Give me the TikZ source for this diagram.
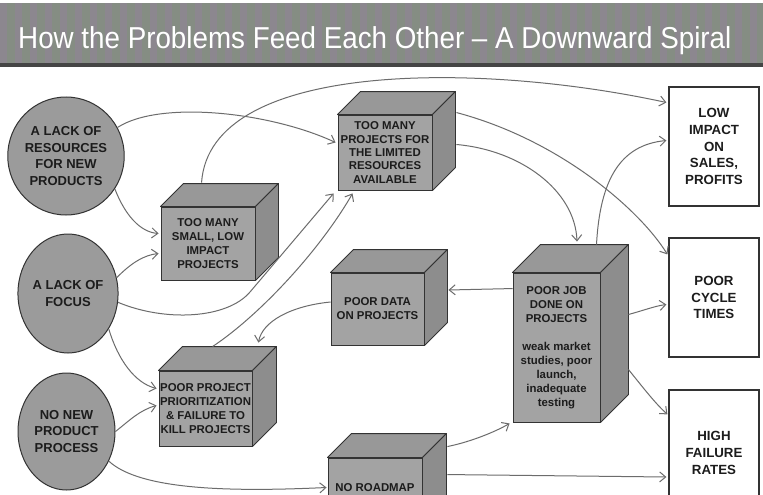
\documentclass[tikz,border=0pt]{standalone}
\usepackage{fontspec}
\setmainfont{Liberation Sans}
\usetikzlibrary{arrows.meta,calc,shapes.geometric}
\definecolor{barbase}{HTML}{858D83}
\definecolor{barstripe}{HTML}{8C878F}
\definecolor{bardark}{HTML}{454545}
\definecolor{ellfill}{HTML}{9B9B9B}
\definecolor{frontc}{HTML}{A3A3A3}
\definecolor{topc}{HTML}{989898}
\definecolor{sidec}{HTML}{8D8D8D}
\definecolor{edgec}{HTML}{333333}
\definecolor{inkc}{HTML}{1C1C1C}
\definecolor{arrowgray}{HTML}{6C6C6C}
\tikzset{
  cause/.style={ellipse, draw=edgec, line width=1pt, fill=ellfill, inner sep=0pt, align=center, text=inkc,
    font=\fontsize{13pt}{16.5pt}\selectfont\bfseries},
  cubefront/.style={rectangle, draw=edgec, line width=0.9pt, fill=frontc, inner sep=0pt, align=center, text=inkc},
  cubetopface/.style={draw=edgec, line width=0.9pt, fill=topc, line join=round},
  cubesideface/.style={draw=edgec, line width=0.9pt, fill=sidec, line join=round},
  outbox/.style={rectangle, draw=edgec, line width=1.2pt, fill=white, inner sep=0pt, align=center, text=inkc,
    font=\fontsize{13.3pt}{16.7pt}\selectfont\bfseries, minimum width=90pt},
  arr/.style={draw=arrowgray, line width=1pt, -{Straight Barb[length=6pt,width=10pt]}},
  cubefont/.style={font=\fontsize{11.4pt}{14pt}\selectfont\bfseries}
}
\newcommand{\drawcube}[7]{%
  \node[cubefront, minimum width=#3, minimum height=#4, #7] (#1) at #2 {#6};
  \filldraw[cubetopface] (#1.north west) -- ++(#5,-#5) -- ($(#1.north east)+(#5,-#5)$) -- (#1.north east) -- cycle;
  \filldraw[cubesideface] (#1.north east) -- ++(#5,-#5) -- ($(#1.south east)+(#5,-#5)$) -- (#1.south east) -- cycle;
}
\begin{document}
\begin{tikzpicture}[x=1pt,y=-1pt]
\useasboundingbox (0,0) rectangle (763,495);
\clip (0,0) rectangle (763,495);
\fill[white] (0,0) rectangle (763,495);
% title bar
\fill[barbase] (0,3) rectangle (763,64);
\foreach \i in {0,15,...,765} { \fill[barstripe] (\i,3) rectangle ++(7,61); }
\fill[bardark] (0,63) rectangle (763,67);
\node[anchor=base west, text=white, inner sep=0pt, font=\fontsize{27.5pt}{30pt}\selectfont] (title) at (18,48.5)
  {\scalebox{1.01}[1.1]{How the Problems Feed Each Other – A Downward Spiral}};
% causes
\node[cause, minimum width=94pt, minimum height=118pt] (e1) at (66,156) {A LACK OF\\RESOURCES\\FOR NEW\\PRODUCTS};
\node[cause, minimum width=96pt, minimum height=119pt] (e2) at (68,293.5) {A LACK OF\\FOCUS};
\node[cause, minimum width=97pt, minimum height=117pt] (e3) at (66.5,431.5) {NO NEW\\PRODUCT\\PROCESS};
% outcomes
\node[outbox, minimum height=119pt] (r1) at (714,146.5) {LOW\\IMPACT\\ON\\SALES,\\PROFITS};
\node[outbox, minimum height=119pt] (r2) at (714,297.5) {POOR\\CYCLE\\TIMES};
\node[outbox, minimum height=126pt] (r3) at (714,453) {HIGH\\FAILURE\\RATES};
% cubes
\drawcube{c1}{(208,243.5)}{94pt}{73pt}{23}{TOO MANY\\SMALL, LOW\\IMPACT\\PROJECTS}{cubefont}
\drawcube{c2}{(385,152.5)}{94pt}{75pt}{23}{TOO MANY\\PROJECTS FOR\\THE LIMITED\\RESOURCES\\AVAILABLE}{font=\fontsize{11.4pt}{13.3pt}\selectfont\bfseries}
\drawcube{c3}{(377.5,309)}{93pt}{72pt}{23}{POOR DATA\\ON PROJECTS}{cubefont}
\drawcube{c4}{(205.5,408.5)}{93pt}{75pt}{24}{POOR PROJECT\\PRIORITIZATION\\\& FAILURE TO\\KILL PROJECTS}{cubefont}
\drawcube{c5}{(556.5,347.5)}{87pt}{149pt}{28}{POOR JOB\\DONE ON\\PROJECTS\\[14pt]weak market\\studies, poor\\launch,\\inadequate\\testing}{cubefont}
\drawcube{c6}{(375,495.5)}{94pt}{75pt}{24}{}{cubefont}
\node[cubefont, text=inkc, inner sep=0pt] (c6t) at (375,487.5) {NO ROADMAP};
% connectors
\draw[arr] (e1.29) .. controls (160,100) and (270,112) .. ($(c2.west)+(-2,-10)$);
\draw[arr] ($(c1.north west)+(41,-24)$) .. controls (210,60) and (480,62) .. ($(r1.west)+(-2,-44)$);
\draw[arr] (e1.-34) .. controls (125,215) and (140,232) .. ($(c1.west)+(-2,-10)$);
\draw[arr] (e2.18) .. controls (132,262) and (145,255) .. ($(c1.west)+(-2,10)$);
\draw[arr] (e2.-10) .. controls (165,322) and (227,319) .. (250,292) -- ($(c2.south west)+(-4,3)$);
\draw[arr] ($(c4.north west)+(54,-24)$) .. controls (260,315) and (320,250) .. ($(c2.south west)+(15,3)$);
\draw[arr] (e2.-41) .. controls (118,360) and (135,383) .. ($(c4.west)+(-2,-20)$);
\draw[arr] (e3.0) .. controls (130,420) and (140,410) .. ($(c4.west)+(-2,-3)$);
\draw[arr] (e3.-35) .. controls (140,490) and (230,492) .. ($(c6.west)+(-1,-8)$);
\draw[arr] ($(c3.west)+(0,-7)$) .. controls (290,306) and (262,322) .. ($(c4.north east)+(6,-28)$);
\draw[arr] ($(c5.north west)+(0,16)$) -- ($(c3.east)+(24,-19)$);
\draw[arr] ($(c2.east)+(24,-8)$) .. controls (520,150) and (575,190) .. ($(c5.north)+(20.5,-31)$);
\draw[arr] ($(c2.north east)+(24,-2)$) .. controls (560,140) and (640,210) .. ($(r2.north west)+(-1,17)$);
\draw[arr] ($(c5.north)+(40,-28)$) .. controls (600,180) and (620,145) .. ($(r1.west)+(-2,-6)$);
\draw[arr] ($(c5.east)+(28,-33)$) .. controls (645,310) and (655,306) .. ($(r2.west)+(-2,7)$);
\draw[arr] ($(c5.east)+(28,22)$) .. controls (645,390) and (655,403) .. ($(r3.north west)+(-1,25)$);
\draw[arr] ($(c6.north east)+(25,-11)$) .. controls (470,442) and (495,432) .. ($(c5.south west)+(-3,1)$);
\draw[arr] ($(c6.north east)+(25,17)$) -- ($(r3.west)+(-2,24)$);
\end{tikzpicture}
\end{document}
